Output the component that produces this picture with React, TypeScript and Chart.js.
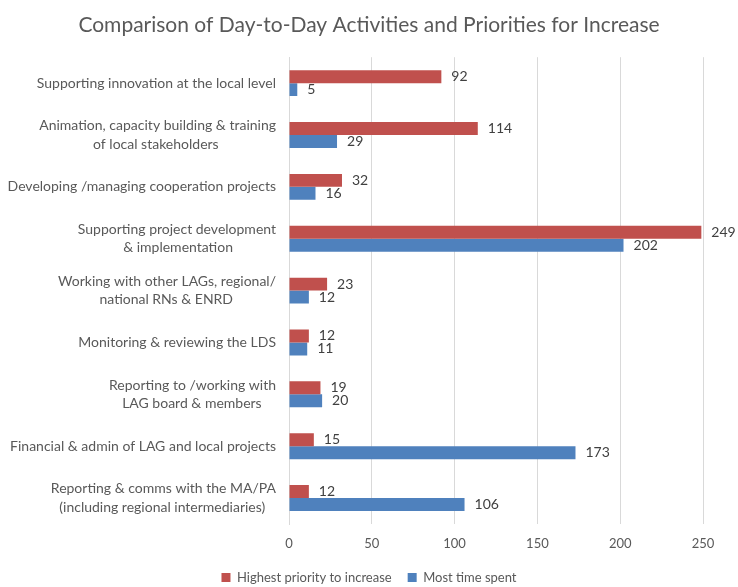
import React, { useEffect, useRef } from "react";
import { Chart, registerables } from "chart.js";

Chart.register(...registerables);

const TITLE = "Comparison of Day-to-Day Activities and Priorities for Increase";

const categories: (string | string[])[] = [
  "Supporting innovation at the local level",
  ["Animation, capacity building & training", "of local stakeholders"],
  "Developing /managing cooperation projects",
  ["Supporting project development", "& implementation"],
  ["Working with other LAGs, regional/", "national RNs & ENRD"],
  "Monitoring & reviewing the LDS",
  ["Reporting to /working with", "LAG board & members"],
  "Financial & admin of LAG and local projects",
  ["Reporting & comms with the MA/PA", "(including regional intermediaries)"],
];

const priorityLabel = "Highest priority to increase";
const timeLabel = "Most time spent";
const priorityValues = [92, 114, 32, 249, 23, 12, 19, 15, 12];
const timeValues = [5, 29, 16, 202, 12, 11, 20, 173, 106];
const xMin = 0;
const xMax = 250;
const xStep = 50;

const FONT = "Lato";
const TEXT = "#595959";
const LABEL_SIZE = 14;

const measureCanvas = typeof document !== "undefined" ? document.createElement("canvas") : null;

function centerLines(label: string | string[], size: number): string | string[] {
  if (!Array.isArray(label) || !measureCanvas) return label;
  const c = measureCanvas.getContext("2d")!;
  c.font = `${size}px ${FONT}`;
  const widths = label.map((l) => c.measureText(l).width);
  const maxW = Math.max(...widths);
  const sp = c.measureText(" ").width || 3;
  return label.map((l, i) => l + " ".repeat(Math.max(0, Math.round((maxW - widths[i]) / 2 / sp))));
}

const valueLabels = {
  id: "valueLabels",
  afterDatasetsDraw(chart: any) {
    const ctx = chart.ctx;
    ctx.save();
    ctx.font = `14px ${FONT}`;
    ctx.fillStyle = "#404040";
    ctx.textBaseline = "middle";
    ctx.textAlign = "left";
    chart.data.datasets.forEach((ds: any, i: number) => {
      const meta = chart.getDatasetMeta(i);
      meta.data.forEach((bar: any, j: number) => {
        ctx.fillText(String(ds.data[j]), bar.x + 10, bar.y);
      });
    });
    ctx.restore();
  },
};

export default function App() {
  const ref = useRef<HTMLCanvasElement>(null);

  useEffect(() => {
    document.body.style.margin = "0";
    if (!ref.current) return;
    const chart = new Chart(ref.current, {
      type: "bar",
      data: {
        labels: categories,
        datasets: [
          {
            label: priorityLabel,
            data: priorityValues,
            backgroundColor: "#C0504D",
            categoryPercentage: 0.5,
            barPercentage: 1,
          },
          {
            label: timeLabel,
            data: timeValues,
            backgroundColor: "#4F81BD",
            categoryPercentage: 0.5,
            barPercentage: 1,
          },
        ],
      },
      options: {
        indexAxis: "y",
        responsive: false,
        animation: false,
        layout: { padding: { top: 0, right: 0, bottom: -7, left: 0 } },
        scales: {
          x: {
            min: xMin,
            max: xMax,
            ticks: {
              stepSize: xStep,
              color: TEXT,
              font: { family: FONT, size: 13 },
              padding: 12,
            },
            grid: { color: "#D9D9D9", drawTicks: false },
            border: { display: false },
            afterFit: (scale: any) => {
              scale.height = 31;
            },
          },
          y: {
            ticks: {
              color: TEXT,
              font: { family: FONT, size: LABEL_SIZE, lineHeight: 1.3 },
              padding: 13,
              callback: function (this: any, _v: any, i: number) {
                return centerLines(categories[i], LABEL_SIZE);
              },
            },
            grid: { display: false, drawTicks: false },
            border: { display: true, color: "#D9D9D9" },
            afterFit: (scale: any) => {
              scale.width = 289;
            },
          },
          yRightSpace: {
            type: "linear",
            position: "right",
            display: true,
            ticks: { display: false },
            grid: { display: false, drawTicks: false },
            border: { display: false },
            afterFit: (scale: any) => {
              scale.width = 35;
            },
          },
        },
        plugins: {
          title: {
            display: true,
            text: TITLE,
            color: TEXT,
            font: { family: FONT, size: 21, weight: "normal" },
            padding: { top: 13, bottom: 19 },
          },
          legend: {
            position: "bottom",
            labels: {
              color: TEXT,
              font: { family: FONT, size: 13 },
              boxWidth: 9,
              boxHeight: 9,
              padding: 16,
            },
          },
          tooltip: { enabled: false },
        },
      },
      plugins: [valueLabels],
    });
    return () => chart.destroy();
  }, []);

  return (
    <div style={{ width: 738, height: 587 }}>
      <canvas ref={ref} width={738} height={587} />
    </div>
  );
}
